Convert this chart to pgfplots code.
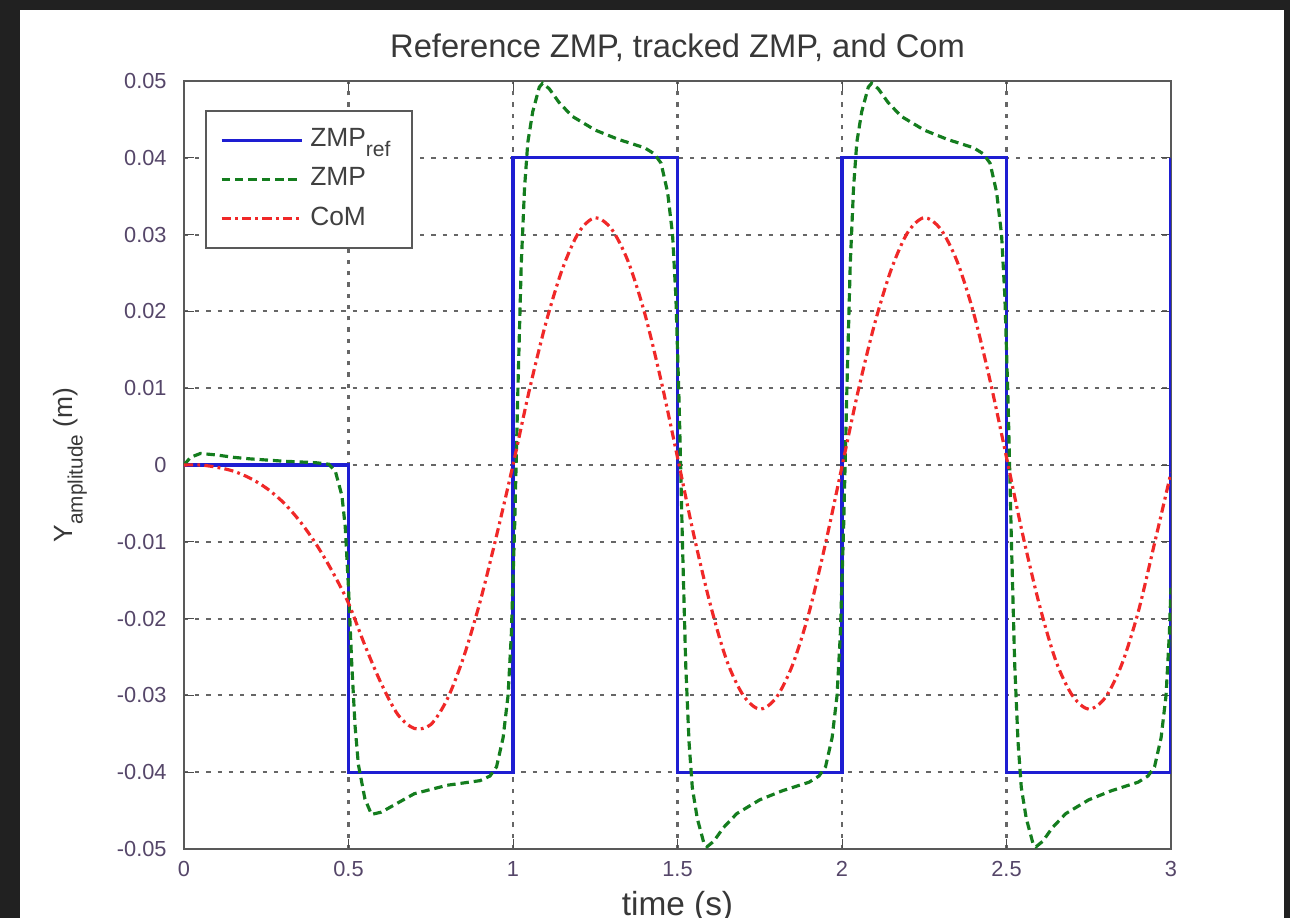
\documentclass[border=0pt]{standalone}
\usepackage{pgfplots}
\pgfplotsset{compat=1.18}
\usepackage{fontspec}
\setmainfont{Liberation Sans}
\definecolor{tickc}{RGB}{85,70,105}
\definecolor{zblue}{RGB}{30,30,210}
\definecolor{zgreen}{RGB}{20,125,30}
\definecolor{zred}{RGB}{240,40,40}
\begin{document}
\begin{tikzpicture}[x=1cm,y=1cm]
\useasboundingbox (0,0) rectangle (12.9,9.18);
\fill[black!87] (0,0) rectangle (12.9,9.18);
\fill[white] (0.2,0) rectangle (12.84,9.08);
\begin{axis}[
  at={(1.84cm,0.69cm)}, anchor=south west,
  scale only axis, width=9.87cm, height=7.68cm,
  xmin=0, xmax=3, ymin=-0.05, ymax=0.05,
  xtick={0,0.5,1,1.5,2,2.5,3},
  xticklabels={0,0.5,1,1.5,2,2.5,3},
  ytick={-0.05,-0.04,-0.03,-0.02,-0.01,0,0.01,0.02,0.03,0.04,0.05},
  yticklabels={-0.05,-0.04,-0.03,-0.02,-0.01,0,0.01,0.02,0.03,0.04,0.05},
  scaled y ticks=false,
  tick label style={font=\fontsize{6.2}{7}\selectfont, text=tickc},
  xticklabel style={yshift=0.0cm},
  yticklabel style={xshift=-0.05cm},
  tick align=inside, major tick length=0.1cm, tick style={black!70},
  axis line style={black!65, line width=0.8pt},
  grid=major,
  major grid style={black!60, line width=0.6pt, dash pattern=on 1.2pt off 2pt},
  title={Reference ZMP, tracked ZMP, and Com},
  title style={at={(axis description cs:0.5,1)}, anchor=center, yshift=0.12cm, font=\fontsize{9.3}{11}\selectfont, text=black!78},
  xlabel={time (s)},
  xlabel style={at={(axis description cs:0.5,0)}, anchor=center, yshift=-0.58cm, font=\fontsize{9.5}{11}\selectfont, text=black!78},
  ylabel={Y\raisebox{-0.75ex}{\fontsize{5.9}{7}\selectfont amplitude} (m)},
  ylabel style={at={(axis description cs:-0.1155,0.5)}, anchor=center, font=\fontsize{7.5}{9}\selectfont, text=black!78},
  legend style={at={(axis description cs:0,1)}, anchor=north west, xshift=0.21cm, yshift=-0.29cm,
    draw=black!65, line width=0.6pt, font=\fontsize{7.5}{9}\selectfont, text=black!75,
    row sep=0.5pt, inner xsep=4pt, inner ysep=3pt, cells={anchor=west}},
  legend image code/.code={\draw[#1] (0cm,0cm) -- (0.8cm,0cm);},
  clip=true,
]
\addplot[zblue, line width=0.9pt] coordinates {
(0,0) (0.5,0) (0.5,-0.04) (1,-0.04) (1,0.04) (1.5,0.04) (1.5,-0.04) (2,-0.04) (2,0.04) (2.5,0.04) (2.5,-0.04) (3,-0.04) (3,0.04)};
\addlegendentry{ZMP\raisebox{-0.7ex}{\fontsize{6}{7}\selectfont ref}}
\addplot[zgreen, line width=0.9pt, dash pattern=on 2.4pt off 1.4pt] coordinates {
(0,0) (0.02,0.0010) (0.05,0.0015) (0.10,0.0013) (0.15,0.0010) (0.20,0.0008) (0.30,0.0005) (0.40,0.0003) (0.44,0.0001) (0.46,-0.0008) (0.48,-0.004) (0.49,-0.008) (0.50,-0.016) (0.51,-0.026) (0.52,-0.034) (0.53,-0.039) (0.55,-0.0435) (0.57,-0.0455) (0.60,-0.0452) (0.65,-0.0440) (0.70,-0.0428) (0.80,-0.0417) (0.90,-0.0411) (0.93,-0.0405) (0.95,-0.0393) (0.97,-0.0355) (0.985,-0.030) (0.995,-0.022) (1.005,-0.008) (1.015,0.010) (1.025,0.026) (1.035,0.036) (1.045,0.042) (1.06,0.046) (1.08,0.0492) (1.09,0.0497) (1.11,0.0490) (1.14,0.0472) (1.18,0.0454) (1.25,0.0436) (1.32,0.0424) (1.40,0.0413) (1.43,0.0405) (1.45,0.0393) (1.47,0.0355) (1.485,0.030) (1.495,0.022) (1.505,0.008) (1.515,-0.010) (1.525,-0.026) (1.535,-0.036) (1.545,-0.042) (1.56,-0.046) (1.58,-0.0492) (1.59,-0.0497) (1.61,-0.0490) (1.64,-0.0472) (1.68,-0.0454) (1.75,-0.0436) (1.82,-0.0424) (1.90,-0.0413) (1.93,-0.0405) (1.95,-0.0393) (1.97,-0.0355) (1.985,-0.030) (1.995,-0.022) (2.005,-0.008) (2.015,0.010) (2.025,0.026) (2.035,0.036) (2.045,0.042) (2.06,0.046) (2.08,0.0492) (2.09,0.0497) (2.11,0.0490) (2.14,0.0472) (2.18,0.0454) (2.25,0.0436) (2.32,0.0424) (2.40,0.0413) (2.43,0.0405) (2.45,0.0393) (2.47,0.0355) (2.485,0.030) (2.495,0.022) (2.505,0.008) (2.515,-0.010) (2.525,-0.026) (2.535,-0.036) (2.545,-0.042) (2.56,-0.046) (2.58,-0.0492) (2.59,-0.0497) (2.61,-0.0490) (2.64,-0.0472) (2.68,-0.0454) (2.75,-0.0436) (2.82,-0.0424) (2.90,-0.0413) (2.93,-0.0405) (2.95,-0.0393) (2.97,-0.0355) (2.985,-0.030) (2.995,-0.022) (3.0,-0.016)};
\addlegendentry{ZMP}
\addplot[zred, line width=0.9pt, smooth, dash pattern=on 2.6pt off 1.2pt on 0.8pt off 1.2pt] coordinates {
(0,0) (0.05,0.0000) (0.10,-0.0003) (0.15,-0.0008) (0.20,-0.0017) (0.25,-0.0030) (0.30,-0.0048) (0.35,-0.0072) (0.40,-0.0102) (0.45,-0.0138) (0.50,-0.0180) (0.55,-0.0235) (0.60,-0.0285) (0.65,-0.0325) (0.70,-0.0343) (0.75,-0.0338) (0.80,-0.0305) (0.85,-0.0250) (0.90,-0.0178) (0.95,-0.0092) (1.00,0.0000) (1.05,0.0098) (1.10,0.0185) (1.15,0.0255) (1.20,0.0303) (1.25,0.0322) (1.30,0.0307) (1.35,0.0265) (1.40,0.0198) (1.45,0.0110) (1.50,0.0010) (1.55,-0.0092) (1.60,-0.0182) (1.65,-0.0255) (1.70,-0.0300) (1.75,-0.0318) (1.80,-0.0303) (1.85,-0.0260) (1.90,-0.0192) (1.95,-0.0102) (2.00,-0.0002) (2.05,0.0098) (2.10,0.0185) (2.15,0.0255) (2.20,0.0303) (2.25,0.0322) (2.30,0.0307) (2.35,0.0265) (2.40,0.0198) (2.45,0.0110) (2.50,0.0010) (2.55,-0.0092) (2.60,-0.0182) (2.65,-0.0255) (2.70,-0.0300) (2.75,-0.0318) (2.80,-0.0303) (2.85,-0.0260) (2.90,-0.0192) (2.95,-0.0102) (3.00,-0.0010)};
\addlegendentry{CoM}
\end{axis}
\end{tikzpicture}
\end{document}
